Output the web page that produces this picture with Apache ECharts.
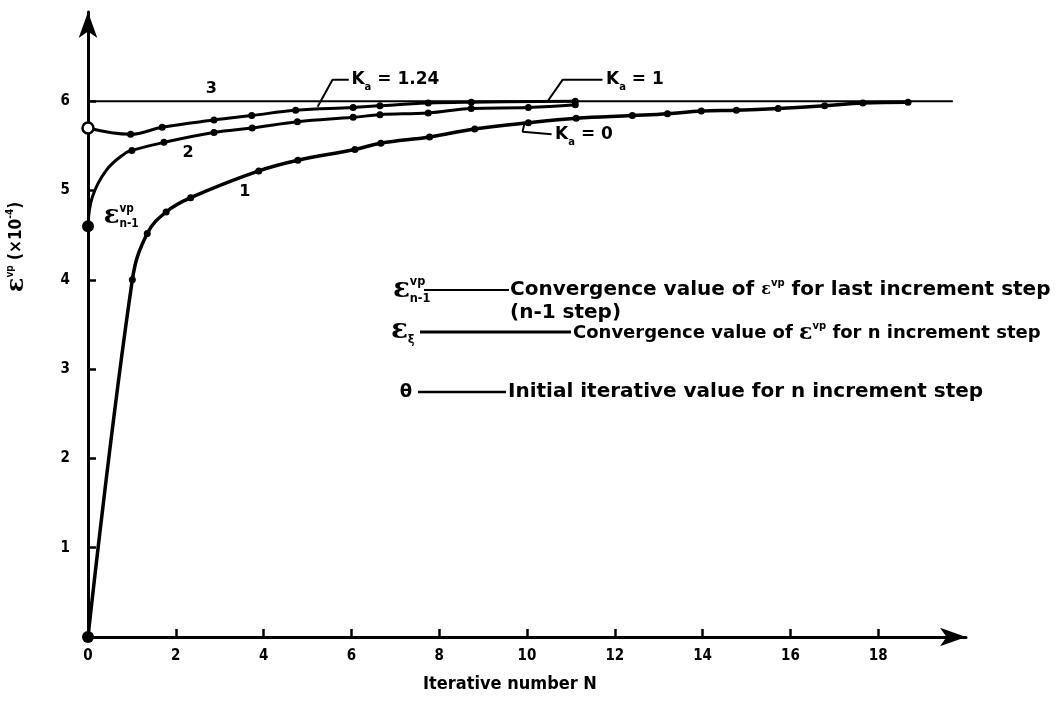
<!DOCTYPE html>
<html>
<head>
<meta charset="utf-8">
<script src="https://cdn.jsdelivr.net/npm/echarts@6/dist/echarts.min.js"></script>
<style>
  html, body { margin: 0; padding: 0; background: #fff; }
  #main { width: 1057px; height: 711px; }
</style>
</head>
<body>
<div id="main"></div>
<script>
// values: x = iterative number N, y = strain (x1e-4)
var curveKa0 = [[0, 0], [1.01, 4.0], [1.35, 4.52], [1.78, 4.76], [2.34, 4.92], [3.89, 5.22], [4.78, 5.34],
  [6.08, 5.46], [6.67, 5.53], [7.78, 5.60], [8.81, 5.69], [10.03, 5.76], [11.12, 5.81], [12.4, 5.84],
  [13.2, 5.86], [13.97, 5.89], [14.77, 5.90], [15.72, 5.92], [16.78, 5.95], [17.65, 5.98], [18.68, 5.99]];
var curveKa1 = [[0, 4.6], [1.0, 5.45], [1.73, 5.54], [2.87, 5.65], [3.74, 5.70], [4.77, 5.77], [6.04, 5.82],
  [6.65, 5.85], [7.75, 5.87], [8.73, 5.92], [10.03, 5.93], [11.1, 5.96]];
var curveKa124 = [[0, 5.70], [0.97, 5.63], [1.69, 5.71], [2.87, 5.79], [3.73, 5.84], [4.73, 5.90], [6.04, 5.93],
  [6.65, 5.95], [7.75, 5.98], [8.73, 5.99], [11.1, 6.0]];
// extra points along the drawn curve where there is no dot
var shapeKa1 = [[0.1, 4.93], [0.42, 5.23], [0.85, 5.42]];
var line3 = [[0, 6], [19.7, 6]];

var xLabels = [0, 2, 4, 6, 8, 10, 12, 14, 16, 18];
var xTicks = [2, 4, 6, 8, 10, 12, 14, 16, 18];
var yLabels = [1, 2, 3, 4, 5, 6];

// annotation leaders (data coords)
var leaderKa124 = [[5.23, 5.94], [5.57, 6.24], [5.94, 6.24]];
var leaderKa1 = [[10.47, 6.0], [10.81, 6.24], [11.72, 6.24]];
var leaderKa0 = [[9.95, 5.77], [9.9, 5.66], [10.56, 5.63]];

var FONT = "'DejaVu Sans Condensed', 'Liberation Sans Narrow', sans-serif";
var WIDE = "'DejaVu Sans', sans-serif";
var SERIF = "'DejaVu Serif', serif";

function buildData(points, shape, first) {
  var all = points.map(function (p, i) {
    var d = { value: p };
    if (i === 0 && first) d = Object.assign(d, first);
    return d;
  });
  (shape || []).forEach(function (p) {
    all.push({ value: p, symbol: 'none' });
  });
  all.sort(function (a, b) { return a.value[0] - b.value[0]; });
  return all;
}

function curve(name, data, width) {
  return {
    name: name, type: 'line', data: data, smooth: 0.4,
    symbol: 'circle', symbolSize: 7, showAllSymbol: true,
    lineStyle: { color: '#000', width: width },
    itemStyle: { color: '#000' },
    emphasis: { disabled: true }, z: 3
  };
}

function leader(data) {
  return {
    type: 'line', data: data, symbol: 'none', silent: true,
    lineStyle: { color: '#000', width: 2 }, z: 2
  };
}

var chart = echarts.init(document.getElementById('main'));

var option = {
  backgroundColor: '#fff',
  animation: false,
  grid: { left: 88, right: 91, top: 12, bottom: 74 },
  xAxis: {
    type: 'value', min: 0, max: 20, interval: 2,
    name: 'Iterative number N', nameLocation: 'middle', nameGap: 38,
    nameTextStyle: { fontFamily: FONT, fontWeight: 'bold', fontSize: 18, color: '#000', padding: [0, 34, 0, 0] },
    axisLine: { symbol: ['none', 'arrow'], symbolSize: [14, 26], lineStyle: { color: '#000', width: 3 } },
    axisTick: { inside: true, length: 8, customValues: xTicks, lineStyle: { color: '#000', width: 2.5 } },
    axisLabel: { customValues: xLabels, margin: 12, fontFamily: FONT, fontWeight: 'bold', fontSize: 15, color: '#000' },
    splitLine: { show: false }
  },
  yAxis: {
    type: 'value', min: 0, max: 7, interval: 1,
    axisLine: { symbol: ['none', 'arrow'], symbolSize: [14, 26], lineStyle: { color: '#000', width: 3 } },
    axisTick: { inside: true, length: 8, customValues: yLabels, lineStyle: { color: '#000', width: 2.5 } },
    axisLabel: { customValues: yLabels, margin: 18, fontFamily: FONT, fontWeight: 'bold', fontSize: 15, color: '#000' },
    splitLine: { show: false }
  },
  series: [
    { type: 'line', data: line3, symbol: 'none', lineStyle: { color: '#000', width: 2 }, z: 2 },
    curve('Ka=0', buildData(curveKa0, null, { symbolSize: 12 }), 3.5),
    curve('Ka=1', buildData(curveKa1, shapeKa1, { symbolSize: 12 }), 3),
    curve('Ka=1.24', buildData(curveKa124, null, {
      symbolSize: 11, itemStyle: { color: '#fff', borderColor: '#000', borderWidth: 2.5 }
    }), 3),
    leader(leaderKa124), leader(leaderKa1), leader(leaderKa0)
  ]
};
chart.setOption(option);

function px(p) { return chart.convertToPixel({ gridIndex: 0 }, p); }

function txt(x, y, text, size, extra) {
  var s = {
    text: text, fontFamily: FONT, fontWeight: 'bold', fontSize: size, fill: '#000',
    align: 'left', verticalAlign: 'middle'
  };
  if (extra) Object.assign(s, extra);
  return { type: 'text', x: x, y: y, style: s, z: 10 };
}

// epsilon with stacked super/subscript
function epsStack(x, y, size, sup, sub) {
  var els = [txt(x, y, 'ε', size, { fontFamily: SERIF })];
  if (sup) els.push(txt(x + size * 0.6, y - size * 0.3, sup, size * 0.45));
  if (sub) els.push(txt(x + size * 0.6, y + size * 0.3, sub, size * 0.45));
  return els;
}

function hline(x1, x2, y, w) {
  return { type: 'line', shape: { x1: x1, y1: y, x2: x2, y2: y }, style: { stroke: '#000', lineWidth: w }, z: 10 };
}

function richBody(size, eSize) {
  return {
    e: { fontFamily: SERIF, fontWeight: 'bold', fontSize: eSize, lineHeight: 24 },
    s: { fontFamily: WIDE, fontWeight: 'bold', fontSize: 10, verticalAlign: 'top', lineHeight: 24 },
    n: { fontFamily: WIDE, fontWeight: 'bold', fontSize: size, lineHeight: 24 }
  };
}
var richK = {
  n: { fontSize: 17, fontFamily: WIDE, fontWeight: 'bold' },
  a: { fontSize: 10, fontFamily: WIDE, fontWeight: 'bold', verticalAlign: 'bottom', lineHeight: 26 }
};

var graphics = [];
var p;
p = px([2.81, 6.14]); graphics.push(txt(p[0], p[1], '3', 16, { align: 'center', fontFamily: WIDE }));
p = px([2.28, 5.42]); graphics.push(txt(p[0], p[1], '2', 16, { align: 'center', fontFamily: WIDE }));
p = px([3.57, 4.99]); graphics.push(txt(p[0], p[1], '1', 16, { align: 'center', fontFamily: WIDE }));

p = px([6.0, 6.24]);
graphics.push(txt(p[0], p[1], '{n|K}{a|a}{n| = 1.24}', 17, { rich: richK }));
p = px([11.8, 6.24]);
graphics.push(txt(p[0], p[1], '{n|K}{a|a}{n| = 1}', 17, { rich: richK }));
p = px([10.64, 5.63]);
graphics.push(txt(p[0], p[1], '{n|K}{a|a}{n| = 0}', 17, { rich: richK }));

p = px([0.36, 4.71]);
graphics = graphics.concat(epsStack(p[0], p[1], 26, 'vp', 'n-1'));

// y axis title, rotated
graphics.push({
  type: 'text', x: 17, y: 247, rotation: Math.PI / 2, z: 10,
  style: {
    text: '{e|ε}{s|vp}{n| (×10}{s|-4}{n|)}', align: 'center', verticalAlign: 'middle', fill: '#000',
    rich: {
      e: { fontFamily: SERIF, fontWeight: 'bold', fontSize: 24, lineHeight: 24 },
      s: { fontFamily: FONT, fontWeight: 'bold', fontSize: 10, verticalAlign: 'top', lineHeight: 24 },
      n: { fontFamily: FONT, fontWeight: 'bold', fontSize: 17, lineHeight: 24 }
    }
  }
});

// key block on the right
graphics = graphics.concat(epsStack(393, 290, 28, 'vp', 'n-1'));
graphics.push(hline(424, 509, 290, 2));
graphics.push(txt(510, 290, '{n|Convergence value of }{e|ε}{s|vp}{n| for last increment step}', 20, { rich: richBody(20, 16) }));
graphics.push(txt(510, 313, '(n-1 step)', 20, { fontFamily: WIDE }));

graphics = graphics.concat(epsStack(391, 331, 28, null, 'ξ'));
graphics.push(hline(420, 571, 332, 3));
graphics.push(txt(573, 333, '{n|Convergence value of }{e|ε}{s|vp}{n| for n increment step}', 18, { rich: richBody(18, 22) }));

graphics.push(txt(406, 392, 'θ', 18, { align: 'center', fontFamily: WIDE }));
graphics.push(hline(418, 506, 392, 2.5));
graphics.push(txt(508, 392, 'Initial iterative value for n increment step', 20, { fontFamily: WIDE }));

chart.setOption({ graphic: graphics });
</script>
</body>
</html>
